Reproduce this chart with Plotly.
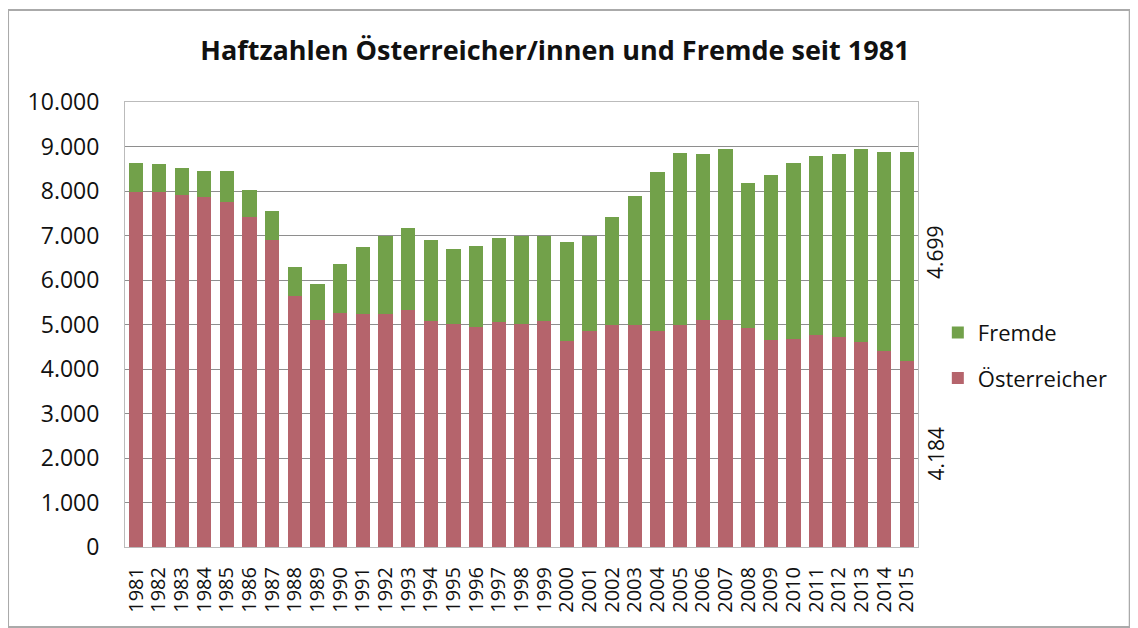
import plotly.graph_objects as go

years = [str(y) for y in range(1981, 2016)]
oesterreicher = [7985, 7985, 7910, 7865, 7760, 7408, 6888, 5640, 5112, 5262,
                 5247, 5232, 5330, 5090, 5007, 4955, 5060, 5022, 5082, 4633,
                 4858, 4993, 4985, 4857, 4985, 5097, 5097, 4932, 4650, 4664,
                 4760, 4723, 4612, 4410, 4184]
fremde = [648, 625, 603, 581, 686, 622, 662, 660, 808, 1108,
          1493, 1761, 1835, 1810, 1693, 1813, 1880, 1963, 1903, 2217,
          2127, 2419, 2902, 3573, 3858, 3731, 3843, 3256, 3710, 3968,
          4030, 4119, 4328, 4462, 4699]

title = "Haftzahlen Österreicher/innen und Fremde seit 1981"
RED = "#B5646C"
GREEN = "#72A14A"
FONT = "Open Sans"

fig = go.Figure()
fig.add_trace(go.Bar(x=years, y=oesterreicher, name="Österreicher",
                     marker=dict(color=RED, line=dict(width=0)),
                     legendgroup="b", legendrank=2))
fig.add_trace(go.Bar(x=years, y=fremde, name="Fremde",
                     marker=dict(color=GREEN, line=dict(width=0)),
                     legendgroup="a", legendrank=1))

def fmt(v):
    return f"{v:,}".replace(",", ".")

last = len(years) - 1
fig.add_annotation(xref="x", x=last, y=oesterreicher[last] / 2, text=fmt(oesterreicher[last]),
                   textangle=-90, showarrow=False, xshift=29,
                   font=dict(family=FONT, size=21, color="#111"))
fig.add_annotation(xref="x", x=last, y=oesterreicher[last] + fremde[last] / 2, text=fmt(fremde[last]),
                   textangle=-90, showarrow=False, xshift=29, yshift=4,
                   font=dict(family=FONT, size=21, color="#111"))

fig.add_shape(type="rect", xref="paper", yref="paper",
              x0=-0.1475, x1=1.267, y0=-0.18, y1=1.2067,
              line=dict(color="#AAAAAA", width=2))

fig.update_layout(
    width=1130, height=620,
    margin=dict(l=117, r=220, t=94, b=81),
    paper_bgcolor="white", plot_bgcolor="white",
    barmode="stack", bargap=0.37,
    separators=",.",
    title=dict(text="<b>" + title + "</b>", x=0.484, xanchor="center",
               y=0.932, yanchor="middle",
               font=dict(family=FONT, size=27, color="#111")),
    font=dict(family=FONT, color="#111"),
    showlegend=True,
    legend=dict(x=1.025, y=0.43, xanchor="left", yanchor="middle",
                traceorder="grouped", tracegroupgap=14,
                font=dict(family=FONT, size=22, color="#111"),
                bgcolor="rgba(0,0,0,0)"),
    xaxis=dict(type="category", tickangle=-90, range=[-0.5, 34.5],
               tickmode="linear", tick0=0, dtick=1,
               tickfont=dict(family=FONT, size=20, color="#111"),
               ticklabelstandoff=11,
               showline=True, linecolor="#BBBBBB", mirror=True,
               ticks="", showgrid=False),
    yaxis=dict(range=[0, 10000], dtick=1000, tickformat=",d",
               tickfont=dict(family=FONT, size=23, color="#111"),
               ticklabelstandoff=20,
               showgrid=True, gridcolor="#8E8E8E", gridwidth=1,
               showline=True, linecolor="#BBBBBB", mirror=True,
               ticks="", zeroline=False),
)

fig.write_html("out.html")
